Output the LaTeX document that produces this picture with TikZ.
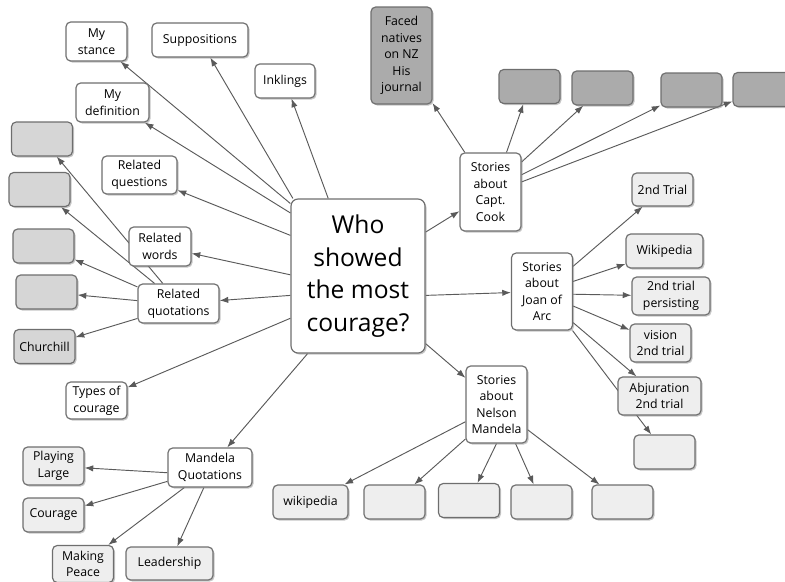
\documentclass[tikz,border=0pt]{standalone}
\usepackage{fontspec}
\setmainfont{Open Sans}
\usetikzlibrary{positioning, arrows.meta, shadows, backgrounds}
\definecolor{edgegray}{HTML}{5A5A5A}
\definecolor{bordergray}{HTML}{6E6E6E}
\definecolor{lightfill}{HTML}{EEEEEE}
\definecolor{midfill}{HTML}{D6D6D6}
\definecolor{darkfill}{HTML}{ABABAB}

\begin{document}
\begin{tikzpicture}[
    x=0.3mm, y=-0.3mm,
    font=\fontsize{10.5}{14.2}\selectfont,
    >=Latex,
    % Styles
    idea/.style={
        rectangle,
        draw=bordergray,
        fill=white,
        rounded corners=4pt,
        minimum width=18.3mm,
        minimum height=10.2mm,
        inner sep=1pt,
        align=center,
        line width=1pt,
        drop shadow={opacity=0.45, shadow xshift=0.45mm, shadow yshift=-0.45mm}
    },
    lightbox/.style={idea, fill=lightfill},
    midbox/.style={idea, fill=midfill},
    darkbox/.style={idea, fill=darkfill},
    twoline/.style={minimum height=11.4mm},
    mainq/.style={
        idea,
        minimum width=40.2mm,
        minimum height=46.2mm,
        rounded corners=6pt,
        font=\fontsize{21}{27.8}\selectfont
    },
    link/.style={
        -{Latex[length=2.6mm, width=1.9mm]},
        draw=edgegray,
        line width=0.8pt
    }
]
    \useasboundingbox (0,0) rectangle (785,581);

    % ================= CENTRAL QUESTION =================
    \node[mainq] (central) at (358,276) {Who\\showed\\the most\\courage?};

    % ================= LEFT BRANCHES =================
    \node[idea, minimum height=11.7mm] (stance) at (96.5,41.5) {My\\stance};
    \node[idea, minimum width=28.8mm] (suppositions) at (200,40) {Suppositions};
    \node[idea, minimum width=18mm] (inklings) at (285,81) {Inklings};
    \node[idea, minimum width=21.9mm, minimum height=11.7mm] (definition) at (112.5,102.5) {My\\definition};
    \node[idea, minimum width=22.5mm, twoline] (questions) at (139.5,175) {Related\\questions};
    \node[idea, minimum width=18.6mm, minimum height=11.7mm] (words) at (160,246.5) {Related\\words};
    \node[idea, minimum width=24.3mm, minimum height=11.7mm] (quotations) at (178.5,303.5) {Related\\quotations};
    \node[idea, minimum height=11.1mm] (types) at (96.5,400.5) {Types of\\courage};

    % Related quotations
    \node[midbox] (quoteA) at (42,139) {};
    \node[midbox] (quoteB) at (39.5,189.5) {};
    \node[midbox] (quoteC) at (43.5,246) {};
    \node[midbox] (quoteD) at (46.5,292) {};
    \node[midbox] (churchill) at (44.5,346.5) {Churchill};

    % ================= MANDELA QUOTATIONS =================
    \node[idea, minimum width=25.2mm, minimum height=11.7mm] (mquotes) at (210,467.5) {Mandela\\Quotations};
    \node[lightbox, twoline] (playing) at (53.5,466) {Playing\\Large};
    \node[lightbox] (courage) at (53.5,515) {Courage};
    \node[lightbox, minimum height=11.1mm] (peace) at (83,564) {Making\\Peace};
    \node[lightbox, minimum width=26.1mm, minimum height=9.9mm] (leadership) at (169.5,563.5) {Leadership};

    % ================= NELSON MANDELA =================
    \node[idea, minimum height=23.1mm] (nelson) at (496.5,404.5) {Stories\\about\\Nelson\\Mandela};
    \node[lightbox, minimum width=22.5mm] (nwiki) at (310.5,502) {wikipedia};
    \node[lightbox] (nboxA) at (394.5,502) {};
    \node[lightbox] (nboxB) at (469,500.5) {};
    \node[lightbox] (nboxC) at (541.5,502) {};
    \node[lightbox] (nboxD) at (622.5,502) {};

    % ================= JOAN OF ARC =================
    \node[idea, minimum height=23.1mm] (joan) at (542,291.5) {Stories\\about\\Joan of\\Arc};
    \node[lightbox, minimum height=9.9mm] (trial) at (662.5,189.5) {2nd Trial};
    \node[lightbox, minimum width=23.1mm] (jwiki) at (664.5,251) {Wikipedia};
    \node[lightbox, minimum width=23.4mm, twoline] (persisting) at (671,296) {2nd trial\\persisting};
    \node[lightbox, twoline] (vision) at (660.5,343) {vision\\2nd trial};
    \node[lightbox, minimum width=24.9mm, twoline] (abjuration) at (659.5,396) {Abjuration\\2nd trial};
    \node[lightbox] (jbox) at (664.5,452) {};

    % ================= CAPT. COOK =================
    \node[idea, minimum height=23.4mm] (cook) at (490.5,192) {Stories\\about\\Capt.\\Cook};
    \node[darkbox, minimum height=29.1mm] (natives) at (401.5,55.5) {Faced\\natives\\on NZ\\His\\journal};
    \node[darkbox] (cboxA) at (529.5,86.5) {};
    \node[darkbox] (cboxB) at (602.5,88) {};
    \node[darkbox] (cboxC) at (691.5,90) {};
    \node[darkbox] (cboxD) at (763.5,89.5) {};

    % ================= CONNECTIONS =================
    \begin{pgfonlayer}{background}
        % From the question
        \draw[link] (central.133) -- (stance);
        \draw[link] (central.130) -- (suppositions);
        \draw[link] (central.111) -- (inklings);
        \draw[link] (central.137) -- (definition);
        \draw[link] (central.149) -- (questions);
        \draw[link] (central.179) -- (words);
        \draw[link] (central.196) -- (quotations);
        \draw[link] (central.212) -- (types);
        \draw[link] (central.237) -- (mquotes);
        \draw[link] (central.315) -- (nelson);
        \draw[link] (central.344) -- (joan);
        \draw[link] (central.33) -- (cook);

        % Related quotations
        \draw[link] (quotations.128) -- (quoteA);
        \draw[link] (quotations.140) -- (quoteB);
        \draw[link] (quotations.158) -- (quoteC);
        \draw[link] (quotations.176) -- (quoteD);
        \draw[link] (quotations.200) -- (churchill);

        % Mandela quotations
        \draw[link] (mquotes.187) -- (playing);
        \draw[link] (mquotes.198) -- (courage);
        \draw[link] (mquotes.218) -- (peace);
        \draw[link] (mquotes.253) -- (leadership);

        % Nelson Mandela
        \draw[link] (nelson.209) -- (nwiki);
        \draw[link] (nelson.228) -- (nboxA);
        \draw[link] (nelson.270) -- (nboxB);
        \draw[link] (nelson.296) -- (nboxC);
        \draw[link] (nelson.321) -- (nboxD);

        % Joan of Arc
        \draw[link] (joan.39) -- (trial);
        \draw[link] (joan.18) -- (jwiki);
        \draw[link] (joan.355) -- (persisting);
        \draw[link] (joan.335) -- (vision);
        \draw[link] (joan.315) -- (abjuration);
        \draw[link] (joan.308) -- (jbox);

        % Capt. Cook
        \draw[link] (cook.123) -- (natives);
        \draw[link] (cook.68) -- (cboxA);
        \draw[link] (cook.44) -- (cboxB);
        \draw[link] (cook.29) -- (cboxC);
        \draw[link] (cook.18) -- (cboxD);
    \end{pgfonlayer}

\end{tikzpicture}
\end{document}
